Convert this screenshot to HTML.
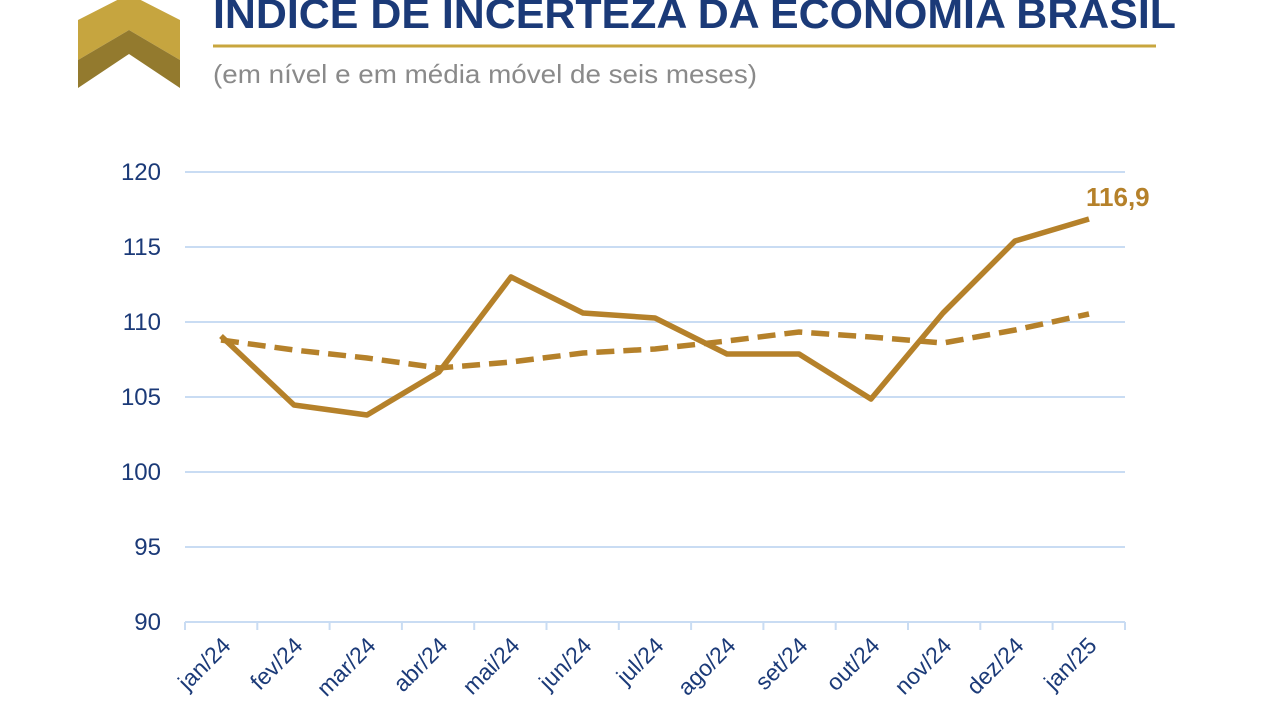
<!DOCTYPE html>
<html><head><meta charset="utf-8"><style>
body{margin:0;background:#fff;width:1280px;height:720px;overflow:hidden;font-family:"Liberation Sans",sans-serif}
</style></head><body>
<svg width="1280" height="720" viewBox="0 0 1280 720" xmlns="http://www.w3.org/2000/svg" font-family="Liberation Sans, sans-serif">
<polygon points="78,20 129,-6 180,20 180,60 129,30 78,60" fill="#c6a53f"/>
<polygon points="78,60 129,30 180,60 180,88 129,54 78,88" fill="#937a2e"/>
<text x="213" y="28" font-size="42" font-weight="bold" fill="#1b3a78" textLength="963" lengthAdjust="spacingAndGlyphs">ÍNDICE DE INCERTEZA DA ECONOMIA BRASIL</text>
<line x1="213" y1="46" x2="1156" y2="46" stroke="#c8a63e" stroke-width="3"/>
<text x="213" y="83" font-size="26" fill="#8a8a8a" textLength="544" lengthAdjust="spacingAndGlyphs">(em nível e em média móvel de seis meses)</text>
<g stroke="#c9dcf3" stroke-width="2">
<line x1="185" y1="172" x2="1125" y2="172"/><line x1="185" y1="247" x2="1125" y2="247"/>
<line x1="185" y1="322" x2="1125" y2="322"/><line x1="185" y1="397" x2="1125" y2="397"/>
<line x1="185" y1="472" x2="1125" y2="472"/><line x1="185" y1="547" x2="1125" y2="547"/>
<line x1="185" y1="622" x2="1125" y2="622"/>
<path d="M185 622v8M257.3 622v8M329.6 622v8M401.9 622v8M474.2 622v8M546.5 622v8M618.8 622v8M691.1 622v8M763.4 622v8M835.7 622v8M908 622v8M980.3 622v8M1052.6 622v8M1125 622v8"/>
</g>
<g font-size="24" fill="#1b3a78" text-anchor="end">
<text x="161" y="180">120</text><text x="161" y="255">115</text><text x="161" y="330">110</text>
<text x="161" y="405">105</text><text x="161" y="480">100</text><text x="161" y="555">95</text><text x="161" y="630">90</text>
</g>
<g font-size="23" fill="#1b3a78" text-anchor="end">
<text transform="translate(232,647) rotate(-45)">jan/24</text>
<text transform="translate(304,647) rotate(-45)">fev/24</text>
<text transform="translate(377,647) rotate(-45)">mar/24</text>
<text transform="translate(449,647) rotate(-45)">abr/24</text>
<text transform="translate(521,647) rotate(-45)">mai/24</text>
<text transform="translate(593,647) rotate(-45)">jun/24</text>
<text transform="translate(665,647) rotate(-45)">jul/24</text>
<text transform="translate(737,647) rotate(-45)">ago/24</text>
<text transform="translate(809,647) rotate(-45)">set/24</text>
<text transform="translate(881,647) rotate(-45)">out/24</text>
<text transform="translate(953,647) rotate(-45)">nov/24</text>
<text transform="translate(1025,647) rotate(-45)">dez/24</text>
<text transform="translate(1098,647) rotate(-45)">jan/25</text>
</g>
<polyline fill="none" stroke="#b5812a" stroke-width="5.5" stroke-dasharray="18,9" points="221,340 294,350 367,358 439,368 511,362 583,353 655,349 727,341 799,332 871,337 943,343 1015,330 1089,314"/>
<polyline fill="none" stroke="#b5812a" stroke-width="5.5" stroke-linejoin="round" points="221,336 294,405 367,415 439,372 511,277 583,313 655,318 727,354 799,354 871,399 943,313 1015,241 1089,219"/>
<text x="1086" y="206" font-size="26" font-weight="bold" fill="#b5812a">116,9</text>
</svg>
</body></html>
